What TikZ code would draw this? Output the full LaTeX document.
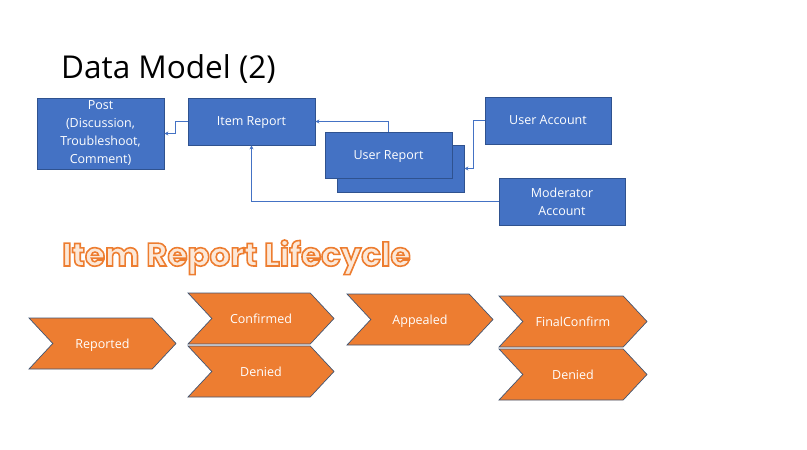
\documentclass[tikz,border=0pt]{standalone}
\usepackage{fontspec}
\usepackage{xcolor}
\usetikzlibrary{arrows.meta,shapes.symbols}
\setmainfont{Open Sans}
\newfontfamily\lifefont{Poppins}[UprightFont=* Bold]

\definecolor{boxblue}{RGB}{68,114,196}
\definecolor{boxedge}{RGB}{47,82,143}
\definecolor{stepfill}{RGB}{237,125,49}
\definecolor{stepedge}{RGB}{65,85,115}
\definecolor{lifefill}{RGB}{252,232,216}

% outlined orange heading text
\newcommand{\outlinetext}[1]{\special{pdf:literal direct 2 Tr 0.93 0.49 0.19 RG 1.6 w}#1\special{pdf:literal direct 0 Tr}}

\tikzset{
  entity/.style={draw=boxedge, fill=boxblue, text=white, line width=0.8pt,
    minimum width=127pt, minimum height=47pt, inner sep=2pt, align=center,
    font=\fontsize{12.5}{18}\selectfont},
  oneline/.style={text depth=0pt},
  stage/.style={signal, signal to=east, signal from=west, signal pointer angle=94,
    draw=stepedge, fill=stepfill, text=white, line width=0.7pt,
    minimum width=147pt, minimum height=51pt, inner sep=0pt,
    text height=9pt, text depth=0pt, font=\fontsize{12.5}{15}\selectfont},
  link/.style={draw=boxblue, line width=0.8pt, -{Stealth[length=4pt,width=4pt]}}
}

\begin{document}
\begin{tikzpicture}[x=1pt, y=-1pt]
\useasboundingbox (0,0) rectangle (807,450);

% Titles
\node[anchor=base west, inner sep=0pt, font=\fontsize{31.5}{36}\selectfont] (title) at (61,78) {Data Model (2)};
\node[anchor=base west, inner sep=0pt, text=lifefill, font=\lifefont\fontsize{32.5}{40}\selectfont] (lifetitle) at (62,266) {\outlinetext{Item Report Lifecycle}};

% Data model boxes
\node[entity, minimum height=71pt] (post) at (100.5,133.5) {Post\\(Discussion,\\Troubleshoot,\\Comment)};
\node[entity, oneline] (irep) at (251.5,121.5) {Item Report};
\node[entity] (urepb) at (400.5,168.5) {};
\node[entity, oneline, minimum height=46pt] (urep) at (388.5,155) {User Report};
\node[entity, oneline, minimum width=126pt] (uacc) at (548,120.5) {User Account};
\node[entity, minimum width=126pt] (macc) at (562,201.5) {Moderator\\Account};

% Connectors
\draw[link] (irep.west) -- ++(-12,0) |- (post.east);
\draw[link] (urep.north) |- (irep.east);
\draw[link] (uacc.west) -- ++(-11,0) |- (urepb.east);
\draw[link] (macc.west) -| (irep.south);

% Lifecycle stages
\node[stage] (reported) at (102.5,343.5) {Reported};
\node[stage, minimum width=146pt] (confirmed) at (261,318.5) {Confirmed};
\node[stage, minimum width=146pt] (denied) at (261,371.5) {Denied};
\node[stage, minimum width=146pt] (appealed) at (420,319.5) {Appealed};
\node[stage, minimum width=148pt] (finalconfirm) at (573,321.5) {FinalConfirm};
\node[stage, minimum width=148pt] (finaldenied) at (573,374.5) {Denied};

\end{tikzpicture}
\end{document}
